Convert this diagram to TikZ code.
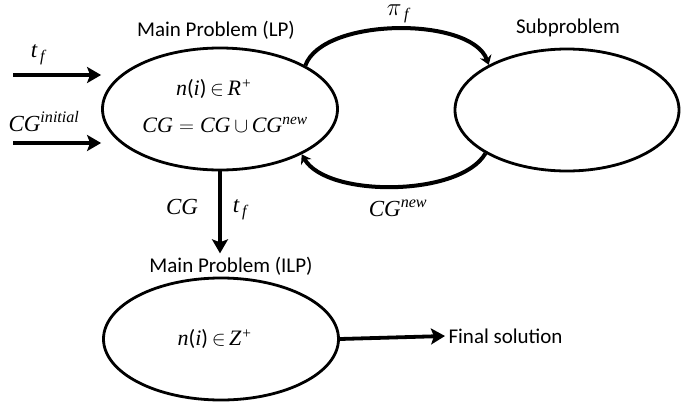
\documentclass[tikz,border=0pt]{standalone}
\usepackage{amsmath}
\usepackage{fontspec}
\setmainfont{Carlito}
\newfontfamily\tms{Liberation Serif}
\newcommand{\vr}[1]{{\tms\itshape #1}}
\newcommand{\up}[1]{$^{\text{\tms\itshape #1}}$}
\newcommand{\dn}[1]{$_{\text{\tms\itshape \,#1}}$}
\usetikzlibrary{positioning,arrows.meta,shapes.geometric,calc}

\begin{document}
\begin{tikzpicture}[x=1pt,y=-1pt,
  prob/.style={draw,ellipse,line width=2.8pt,inner sep=0pt,minimum width=235pt,minimum height=122pt},
  arr/.style={line width=3.8pt,-{Stealth[length=14pt,width=16pt,inset=3pt]}},
  loop/.style={line width=4pt,-{Stealth[length=9pt,width=12pt,inset=3pt]}},
  lbl/.style={font=\fontsize{21}{25}\selectfont},
  mth/.style={font=\fontsize{23}{27}\selectfont,inner sep=1pt},
  inmth/.style={font=\fontsize{22}{26}\selectfont,inner sep=1pt}]
\useasboundingbox (0,0) rectangle (681,410);

% the three problems
\node[prob] (lp) at (220,109) {};
\node[prob,minimum width=224pt] (sub) at (567,110) {};
\node[prob] (ilp) at (221,339) {};

% titles
\node[lbl] (lptitle) at (216,30) {Main Problem (LP)};
\node[lbl] (subtitle) at (568,28) {Subproblem};
\node[lbl] (ilptitle) at (231,266) {Main Problem (ILP)};
\node[lbl,anchor=west] (final) at (445,336) {Final solution};

% inside the ellipses
\node[inmth] (lpa) at ([xshift=-6pt,yshift=20pt]lp.center) {\vr{n}(\vr{i})\,$\in$\,\vr{R}\up{+}};
\node[inmth] (lpb) at ([xshift=5pt,yshift=-16pt]lp.center) {\vr{CG}\;$=$\;\vr{CG}\,$\cup$\,\vr{CG}\up{new}};
\node[inmth] (ilpa) at ([xshift=-6pt]ilp.center) {\vr{n}(\vr{i})\,$\in$\,\vr{Z}\up{+}};

% inputs on the left
\coordinate (tfin) at (13,75);
\coordinate (cgin) at (13,143);
\draw[arr] (tfin) -- (tfin -| lp.west);
\draw[arr] (cgin) -- (cgin -| lp.west);
\node[mth] (tf) at (38,55) {\vr{t}\dn{f}};
\node[mth] (cginit) at (44,122) {\vr{CG}\up{initial}};

% loop between main problem and subproblem
\draw[loop] (lp.27) to[out=70,in=110,looseness=0.72] (sub.150);
\draw[loop] (sub.208) to[out=-120,in=-60,looseness=0.7] (lp.331);
\node[mth,inner sep=0pt,anchor=north] (pif) at (398,5) {\vr{$\pi$}\dn{f}};
\node[mth] (cgnew) at (398,208) {\vr{CG}\up{new}};

% down to the ILP and out
\draw[arr] (lp.south) -- (lp.south |- ilptitle.north);
\node[mth] (cgdown) at (182,207) {\vr{CG}};
\node[mth] (tfdown) at (240,210) {\vr{t}\dn{f}};
\draw[arr] (ilp.east) -- (final.west);
\end{tikzpicture}
\end{document}
